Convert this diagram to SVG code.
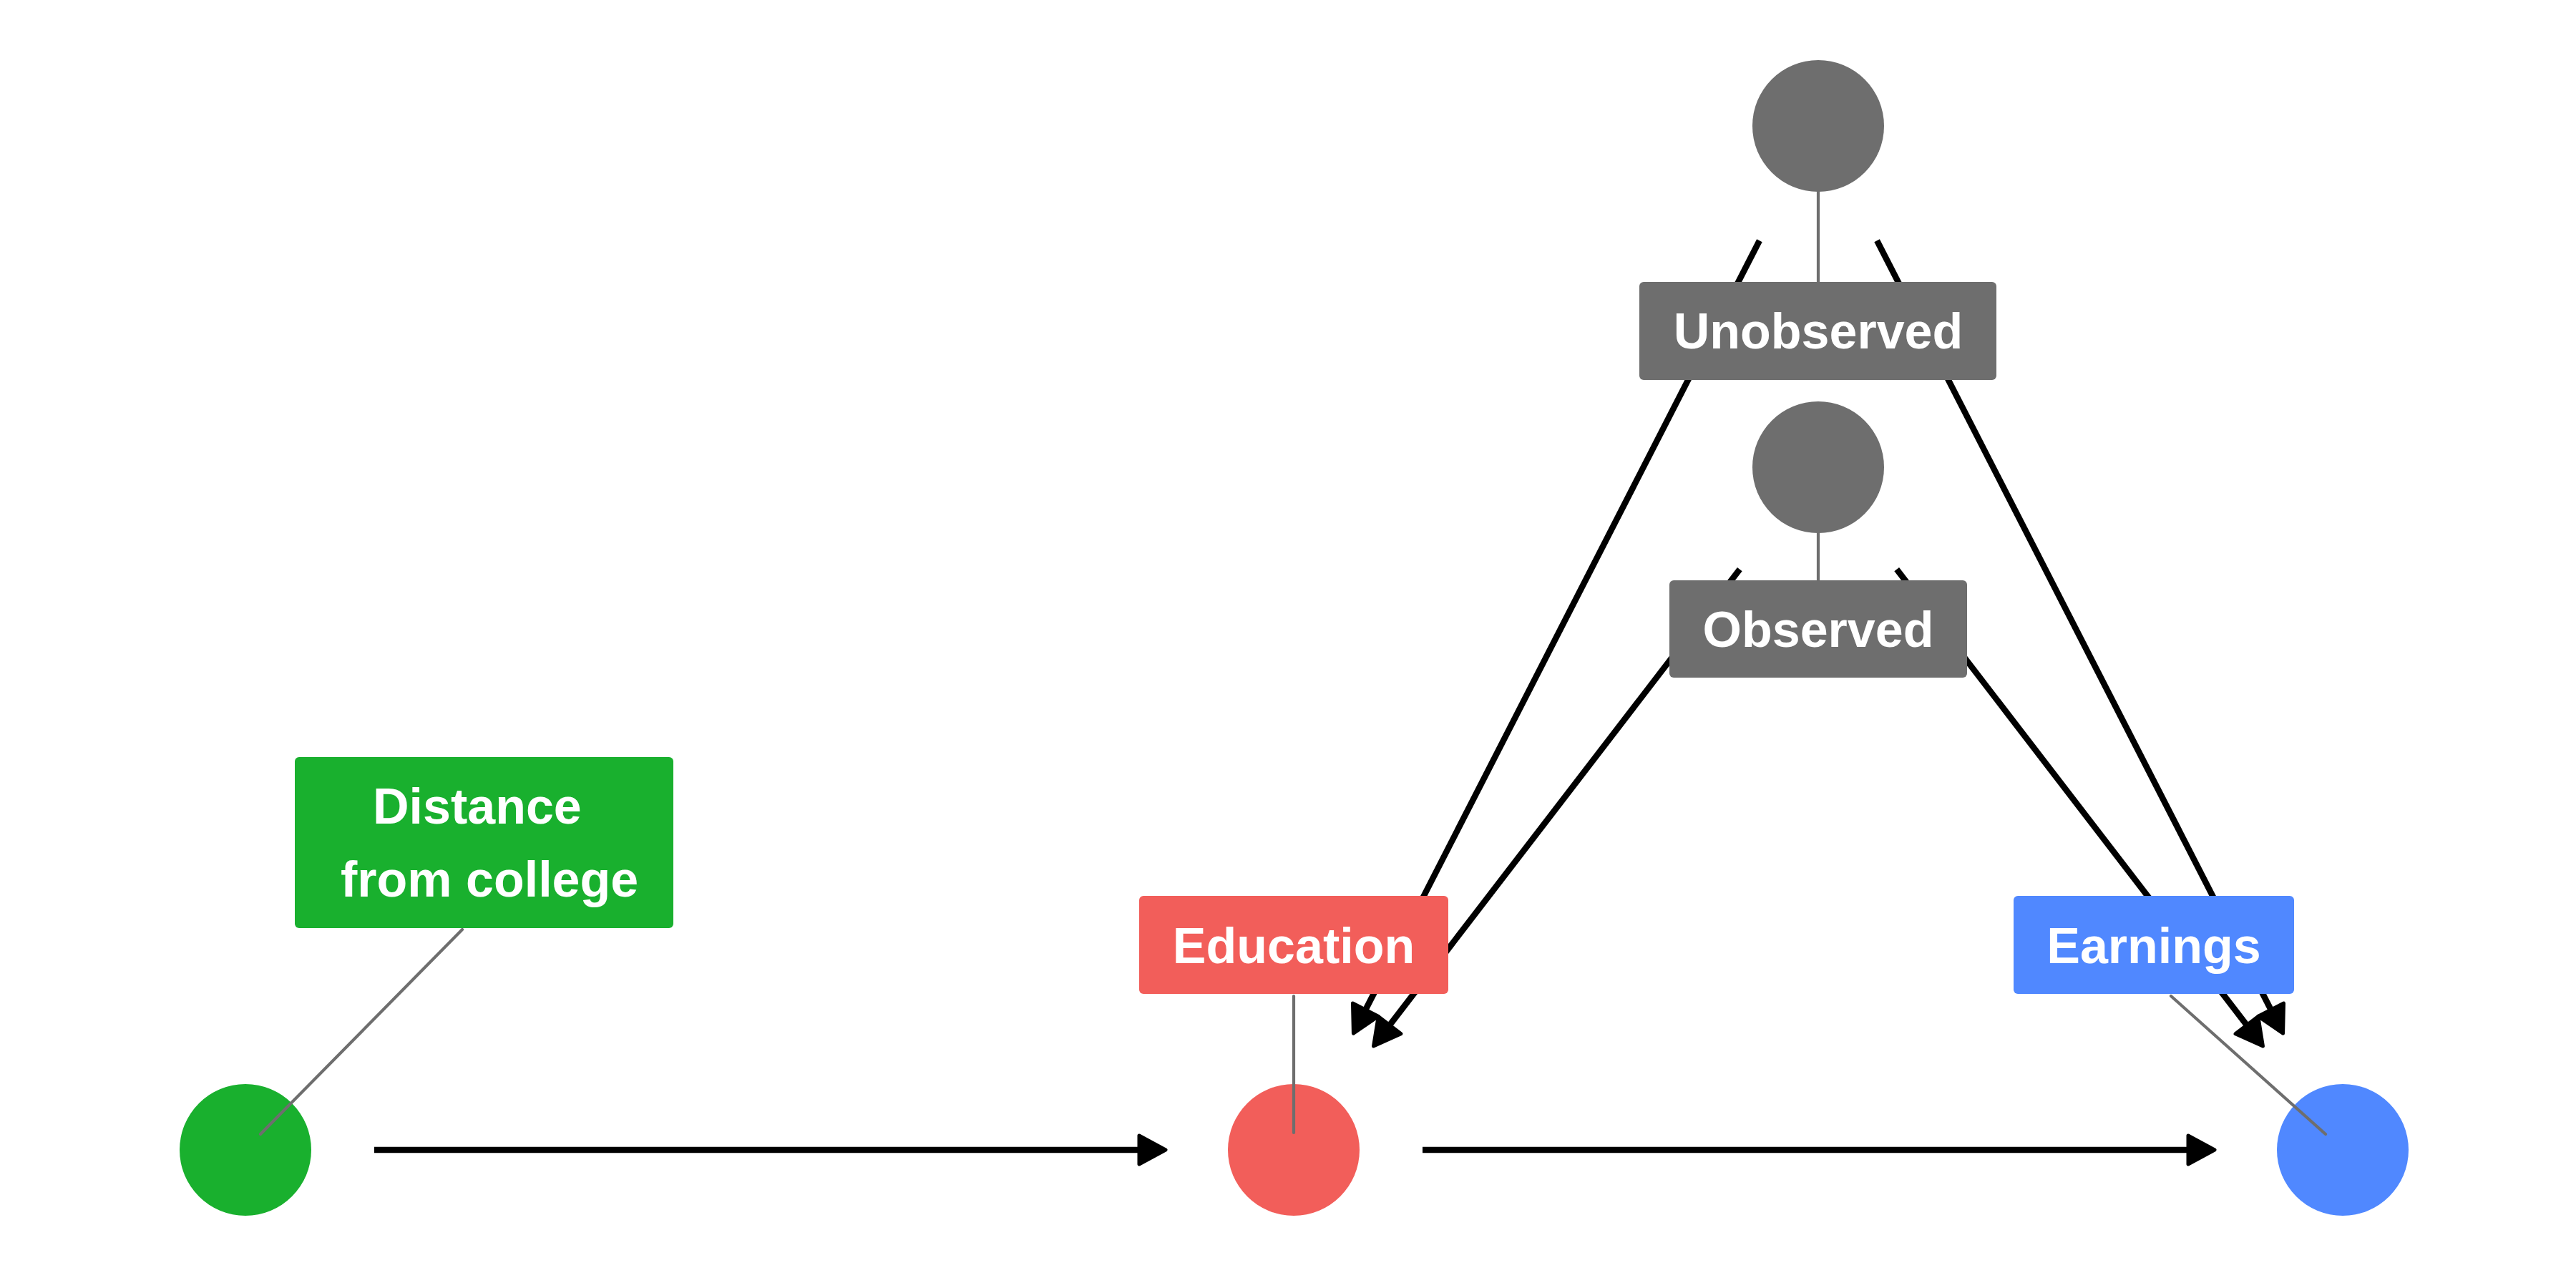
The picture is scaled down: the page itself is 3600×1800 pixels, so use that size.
<svg xmlns="http://www.w3.org/2000/svg" width="3600" height="1800" viewBox="0 0 3600 1800">
<style>
.lbl{font-family:"Liberation Sans",Arial,sans-serif;font-weight:bold;font-size:70px;fill:#ffffff}
.lead{stroke:#6e6e6e;stroke-width:4.2;fill:none;stroke-linecap:round}
.edge{stroke:#000000;stroke-width:8.5;fill:none}
</style>
<defs>
<marker id="arr" markerUnits="userSpaceOnUse" viewBox="-5 -30 55 60" markerWidth="55" markerHeight="60" refX="0" refY="0" orient="auto" overflow="visible">
<path d="M0,-20 L37,0 L0,20 Z" fill="#000" stroke="#000" stroke-width="5" stroke-linejoin="round"/>
</marker>
</defs>
<rect width="3600" height="1800" fill="#ffffff"/>
<g id="node-distance">
<circle cx="343" cy="1607" r="92" fill="#19B02E"/>
<line class="lead" x1="646" y1="1299" x2="364" y2="1585"/>
</g>
<g id="node-education">
<circle cx="1808" cy="1607" r="92" fill="#F25E5A"/>
<line class="lead" x1="1808" y1="1392" x2="1808" y2="1583"/>
</g>
<g id="node-earnings">
<circle cx="3274" cy="1607" r="92" fill="#5088FF"/>
<line class="lead" x1="3034" y1="1392" x2="3250" y2="1585"/>
</g>
<g id="node-unobserved">
<circle cx="2541" cy="176" r="92" fill="#6E6E6E"/>
<line class="lead" x1="2541" y1="268" x2="2541" y2="394"/>
</g>
<g id="node-observed">
<circle cx="2541" cy="653" r="92" fill="#6E6E6E"/>
<line class="lead" x1="2541" y1="745" x2="2541" y2="811"/>
</g>
<g id="connectors">
<line class="edge" x1="523" y1="1607" x2="1592" y2="1607" marker-end="url(#arr)"/>
<line class="edge" x1="1988" y1="1607" x2="3058" y2="1607" marker-end="url(#arr)"/>
<line class="edge" x1="2458.9" y1="336.2" x2="1908.3" y2="1411.2" marker-end="url(#arr)"/>
<line class="edge" x1="2623.1" y1="336.2" x2="3173.7" y2="1411.2" marker-end="url(#arr)"/>
<line class="edge" x1="2431.3" y1="795.7" x2="1942.1" y2="1432.6" marker-end="url(#arr)"/>
<line class="edge" x1="2650.7" y1="795.7" x2="3139.9" y2="1432.6" marker-end="url(#arr)"/>
</g>
<g id="label-distance">
<rect x="412" y="1058" width="529" height="239" rx="6" fill="#19B02E"/>
<text class="lbl" x="521" y="1151">Distance</text>
<text class="lbl" x="476" y="1253">from college</text>
</g>
<g id="label-education">
<rect x="1592" y="1252" width="432" height="137" rx="6" fill="#F25E5A"/>
<text class="lbl" x="1808" y="1346" text-anchor="middle">Education</text>
</g>
<g id="label-earnings">
<rect x="2814" y="1252" width="392" height="137" rx="6" fill="#5088FF"/>
<text class="lbl" x="3010" y="1346" text-anchor="middle">Earnings</text>
</g>
<g id="label-unobserved">
<rect x="2291" y="394" width="499" height="137" rx="6" fill="#6E6E6E"/>
<text class="lbl" x="2541" y="487" text-anchor="middle">Unobserved</text>
</g>
<g id="label-observed">
<rect x="2333" y="811" width="416" height="136" rx="6" fill="#6E6E6E"/>
<text class="lbl" x="2541" y="904" text-anchor="middle">Observed</text>
</g>
</svg>
